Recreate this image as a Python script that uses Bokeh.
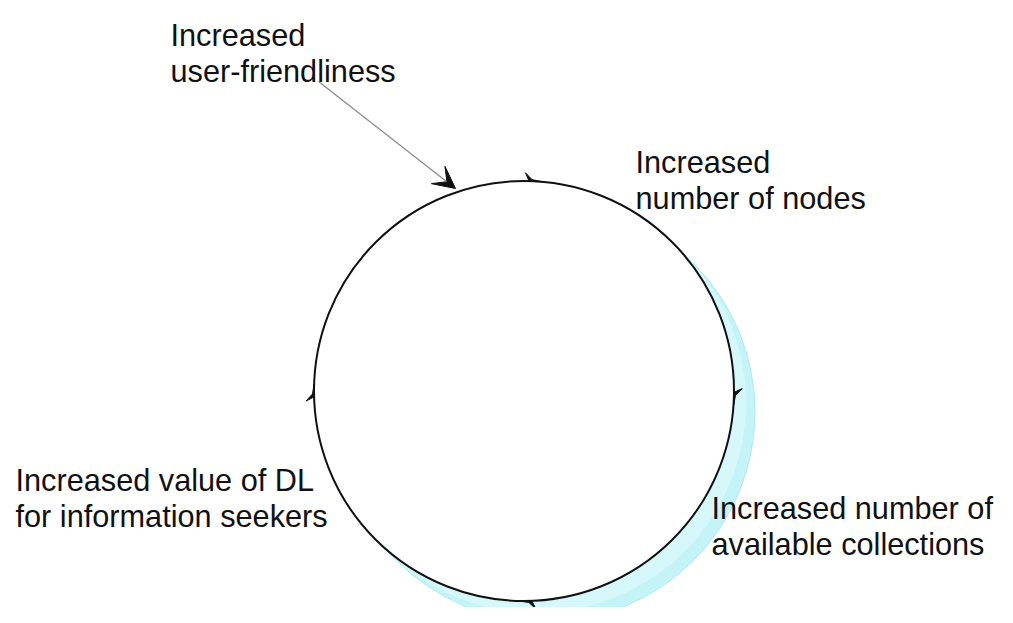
import numpy as np
from bokeh.plotting import figure
from bokeh.models import Range1d, Arrow, VeeHead
from bokeh.core.properties import value
from bokeh.embed import file_html
from bokeh.resources import INLINE

# ---- diagram content ----
label_lines = [
    ["Increased", "user-friendliness"],
    ["Increased", "number of nodes"],
    ["Increased number of", "available collections"],
    ["Increased value of DL", "for information seekers"],
]
label_left = [170, 635, 711, 15]
label_base = [35, 162, 508, 480]

cycle_center = (523.5, 390.5)
cycle_radius = 210
arrow_angles_deg = [87, -2, 270.5, 180]   # clockwise flow marks on the loop
pointer_start = (318, 81)
pointer_end = (455, 188)

W, H = 997, 607
p = figure(width=W, height=H, output_backend="svg", toolbar_location=None,
           x_range=Range1d(0, W), y_range=Range1d(H, 0),
           min_border=0, outline_line_color=None)
p.axis.visible = False
p.grid.visible = False
p.background_fill_color = "white"
p.border_fill_color = "white"

cx, cy = cycle_center
r = cycle_radius

# cyan shadow crescent
p.circle(x=[cx + 21], y=[cy + 21], radius=r, fill_color="#c4f3f8", line_color="#aaedf3", line_width=1)
p.circle(x=[cx + 12], y=[cy + 12], radius=r, fill_color="#d6f8fb", line_color=None)
# main loop
p.circle(x=[cx], y=[cy], radius=r, fill_color="white", line_color="#111111", line_width=2)

# half arrowheads on the loop
xs, ys = [], []
for a in arrow_angles_deg:
    t = np.radians(a)
    px, py = cx + r * np.cos(t), cy - r * np.sin(t)
    tx, ty = np.sin(t), np.cos(t)          # clockwise tangent (screen coords)
    nx, ny = np.cos(t), -np.sin(t)         # outward normal
    xs.append([px + 7 * tx, px - 6 * tx, px - 10 * tx + 8 * nx, px - 3 * tx + 1.5 * nx])
    ys.append([py + 7 * ty, py - 6 * ty, py - 10 * ty + 8 * ny, py - 3 * ty + 1.5 * ny])
p.patches(xs, ys, fill_color="#111111", line_color="#111111", line_width=1)

# pointer arrow
p.add_layout(Arrow(x_start=pointer_start[0], y_start=pointer_start[1],
                   x_end=pointer_end[0], y_end=pointer_end[1],
                   line_color="#8c8c8c", line_width=1.3,
                   end=VeeHead(size=22, fill_color="#111111", line_color="#111111")))

# labels
tx_, ty_, tt_ = [], [], []
for lines, lx, ly in zip(label_lines, label_left, label_base):
    for i, s in enumerate(lines):
        tx_.append(lx)
        ty_.append(ly + 36 * i)
        tt_.append(s)
p.text(x=tx_, y=ty_, text=tt_, text_font=value("Liberation Sans"), text_font_size="30.7px",
       text_color="#111111", text_baseline="alphabetic", text_align="left")

open("out.html", "w").write(file_html(p, INLINE))
